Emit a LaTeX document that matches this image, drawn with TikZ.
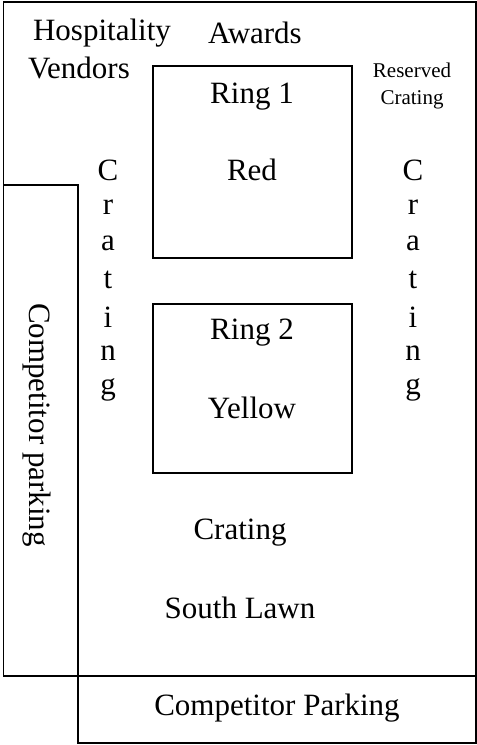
\documentclass[tikz,border=0pt]{standalone}
\usepackage{fontspec}
\setmainfont{Liberation Serif}
\usepackage{tikz}
\usetikzlibrary{calc}
\tikzstyle{area} = [draw, line width=1.8pt]
\tikzstyle{small} = [font=\fontsize{21}{25}\selectfont]

\begin{document}
\begin{tikzpicture}[x=1pt, y=-1pt,
  every node/.style = {inner sep=0pt, align=center,
    font=\fontsize{31}{37}\selectfont}]
  \useasboundingbox (0,0) rectangle (477,745);
  % grounds
  \draw[area] (3.5,2) rectangle (476,676);
  \draw[area] (3.5,185) rectangle (78,676);
  \draw[area] (78,676) rectangle (476,743);
  \draw[area] (153,66) rectangle (352,258);
  \draw[area] (153,304) rectangle (352,473);
  % labels
  \node (hosp) at (102,33) {Hospitality};
  \node (awards) at (255,33) {Awards};
  \node (vendors) at (79,68) {Vendors};
  \node[small] (resv) at (412,86) {Reserved\\[2pt]Crating};
  \node (ring1) at (252,97) {Ring 1};
  \node (red) at (252,170) {Red};
  \node (ring2) at (252,333) {Ring 2};
  \node (yellow) at (252,408) {Yellow};
  \node (crate) at (240,533) {Crating};
  \node (lawn) at (240,608) {South Lawn};
  \node (park) at (277,708) {Competitor Parking};
  \node[rotate=-90] (lpark) at (37,425) {Competitor parking};
  \foreach \l [count=\i] in {C,r,a,t,i,n,g}
  {
    \node (lc\i) at (108,170+36.7*\i-36.7) {\l};
    \node (rc\i) at (413,170+36.7*\i-36.7) {\l};
  }
\end{tikzpicture}
\end{document}
